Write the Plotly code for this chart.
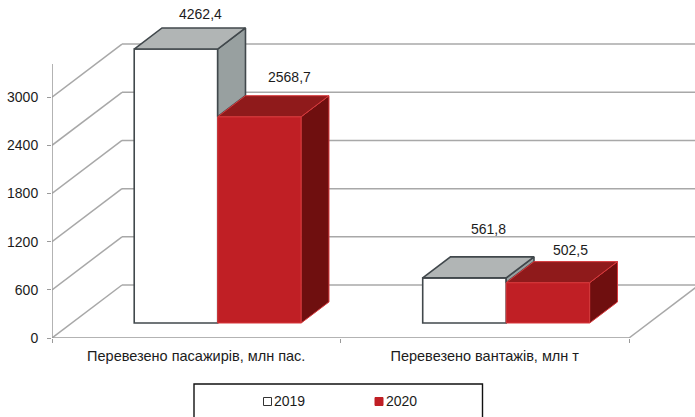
import plotly.graph_objects as go

# Chart data
categories = ["Перевезено пасажирів, млн пас.", "Перевезено вантажів, млн т"]
years = ["2019", "2020"]
values_2019 = [4262.4, 561.8]
values_2020 = [2568.7, 502.5]
y_ticks = [0, 600, 1200, 1800, 2400, 3000]

# Value axis stops here; taller columns are cut off at this level
AXIS_MAX = 3412

# Oblique projection: how far one full unit of depth moves a point on screen
DEPTH_X = 0.2426   # category units
DEPTH_Y = 660      # value units
BAR_FRONT = 0.283  # depth of the column front faces
BAR_BACK = 0.68    # depth of the column back faces
GROUP_GAP = 0.2163 # gap before a column pair, in category units
BAR_WIDTH = 0.2894

# Plot-area geometry in page pixels
PLOT_LEFT = 52
PLOT_WIDTH = 643
PLOT_BOTTOM = 338
PX_PER_CATEGORY = 288.5
PX_PER_VALUE = 0.0803

GRID = "#a8a8a8"
AXIS = "#9a9a9a"
TEXT = "#1c1c1c"
FONT = "Liberation Sans, Arial, sans-serif"

series_styles = [
    dict(front="#ffffff", top="#b1b5b5", side="#98a0a0", edge="#41484c", width=1.6,
         swatch_edge="#333333"),
    dict(front="#c01f25", top="#8f1a1b", side="#6f0f0f", edge="#d8393c", width=1.0,
         swatch_edge="#c01f25"),
]
# Pixel nudges of the value labels from the back centre of each column's top
label_shifts = [[(11, 13.5), (16, 19)], [(10.5, 28), (9, 12)]]
# Legend layout: left edge of each swatch, in page pixels
legend_swatch_left = [263.5, 375]


def project(x, depth, value):
    return x + depth * DEPTH_X, value + depth * DEPTH_Y


def paper_x(px):
    return (px - PLOT_LEFT) / PLOT_WIDTH


def paper_y(py):
    return (PLOT_BOTTOM - py) / PLOT_BOTTOM


fig = go.Figure()
shapes = []


def grid_segment(x0, y0, x1, y1, color=GRID, width=1.5):
    shapes.append(dict(type="line", xref="x", yref="y", x0=x0, y0=y0, x1=x1, y1=y1,
                       layer="below", line=dict(color=color, width=width)))


# Side wall and back wall rules
for tick in y_ticks:
    bx, by = project(0, 1, tick)
    grid_segment(0, tick, bx, by)
    grid_segment(bx, by, 2 + DEPTH_X, by)

# Floor front edge and right edge
grid_segment(0, 0, 2, 0, color=AXIS)
rx, ry = project(2, 1, 0)
grid_segment(2, 0, rx, ry)

# Vertical value axis line
grid_segment(0, 0, 0, AXIS_MAX, color=AXIS)

series = [values_2019, values_2020]


def polygon(points, style_fill, edge, width):
    xs, ys = zip(*(points + points[:1]))
    fig.add_trace(go.Scatter(x=xs, y=ys, mode="lines", fill="toself", fillcolor=style_fill,
                             line=dict(color=edge, width=width), hoverinfo="skip",
                             showlegend=False))


for s, (values, style, year) in enumerate(zip(series, series_styles, years)):
    heights = [min(v, AXIS_MAX) for v in values]
    left = [c + GROUP_GAP + s * BAR_WIDTH for c in range(len(categories))]

    # Column front faces
    fig.add_trace(go.Bar(
        x=[project(l + BAR_WIDTH / 2, BAR_FRONT, 0)[0] for l in left],
        y=heights,
        base=[BAR_FRONT * DEPTH_Y] * len(heights),
        width=BAR_WIDTH,
        marker=dict(color=style["front"], line=dict(color=style["edge"], width=style["width"])),
        name=year, showlegend=False, hoverinfo="skip",
    ))

    for c, (l, h) in enumerate(zip(left, heights)):
        r = l + BAR_WIDTH
        # Right side: only the part not hidden by the neighbouring column
        floor = min(series[s + 1][c], h) if s + 1 < len(series) else 0
        polygon([project(r, BAR_FRONT, h), project(r, BAR_BACK, h),
                 project(r, BAR_BACK, floor), project(r, BAR_FRONT, floor)],
                style["side"], style["edge"], style["width"])
        # Top face
        polygon([project(l, BAR_FRONT, h), project(r, BAR_FRONT, h),
                 project(r, BAR_BACK, h), project(l, BAR_BACK, h)],
                style["top"], style["edge"], style["width"])

# Value labels above each column
annotations = []
for s, values in enumerate(series):
    for c, v in enumerate(values):
        centre = c + GROUP_GAP + (s + 0.5) * BAR_WIDTH
        ax, ay = project(centre, BAR_BACK - 0.2, min(v, AXIS_MAX) + 0.2 * DEPTH_Y)
        dx, dy = label_shifts[c][s]
        annotations.append(dict(
            x=ax, y=ay, xref="x", yref="y", showarrow=False,
            text=f"{v:.1f}".replace(".", ","), xshift=dx, yshift=dy,
            font=dict(family=FONT, size=14, color=TEXT),
        ))

# Legend: frame open towards the page bottom, swatch and year for each series
shapes.append(dict(type="rect", xref="paper", yref="paper",
                   x0=paper_x(194), x1=paper_x(482.5), y0=paper_y(430), y1=paper_y(384),
                   line=dict(color="#111111", width=1.4), fillcolor="rgba(0,0,0,0)"))
for year, style, sx in zip(years, series_styles, legend_swatch_left):
    shapes.append(dict(type="rect", xref="paper", yref="paper",
                       x0=paper_x(sx), x1=paper_x(sx + 8), y0=paper_y(405.5), y1=paper_y(397.5),
                       fillcolor=style["front"], line=dict(color=style["swatch_edge"], width=1)))
    annotations.append(dict(
        x=paper_x(sx + 8.5), y=paper_y(401), xref="paper", yref="paper", showarrow=False,
        xanchor="left", yanchor="middle", text=year,
        font=dict(family=FONT, size=14, color=TEXT),
    ))

fig.update_layout(
    width=695, height=417, autosize=False,
    margin=dict(l=PLOT_LEFT, r=0, t=0, b=79, pad=0, autoexpand=False),
    paper_bgcolor="white", plot_bgcolor="white",
    barmode="overlay",
    font=dict(family=FONT, size=14, color=TEXT),
    shapes=shapes, annotations=annotations,
    showlegend=False,
    xaxis=dict(
        range=[0, PLOT_WIDTH / PX_PER_CATEGORY], showgrid=False, zeroline=False, showline=False,
        tickmode="array", tickvals=[0.5, 1.5], ticktext=categories, ticks="",
        tickfont=dict(family=FONT, size=14.5, color=TEXT), ticklabelstandoff=7,
        minor=dict(tickmode="array", tickvals=[0, 1, 2], ticks="outside", ticklen=4,
                   tickcolor=AXIS, tickwidth=1.4),
    ),
    yaxis=dict(
        range=[0, PLOT_BOTTOM / PX_PER_VALUE], showgrid=False, zeroline=False, showline=False,
        tickmode="array", tickvals=y_ticks, ticks="outside", ticklen=4,
        tickcolor=AXIS, tickwidth=1.4, ticklabelstandoff=6,
        tickfont=dict(family=FONT, size=14, color=TEXT),
    ),
)

fig.write_html("out.html", config=dict(displayModeBar=False))
